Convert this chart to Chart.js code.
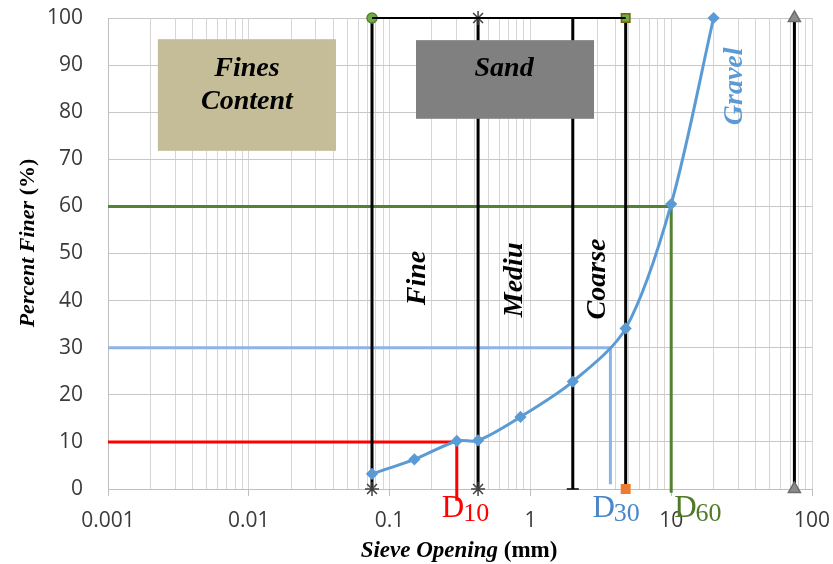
<!DOCTYPE html>
<html>
<head>
<meta charset="utf-8">
<script src="https://cdn.jsdelivr.net/npm/chart.js@4.4.1/dist/chart.umd.min.js"></script>
<style>
  html, body { margin: 0; padding: 0; background: #fff; }
  #wrap { width: 833px; height: 564px; }
</style>
</head>
<body>
<div id="wrap"><canvas id="gsd" width="833" height="564"></canvas></div>
<script>
// Data.
const sieveSizes = [0.075, 0.15, 0.3, 0.425, 0.85, 2, 4.75, 10, 20];
const percentFiner = [3.2, 6.3, 10.2, 10.3, 15.3, 22.8, 34.1, 60.5, 100];

// D10, D30, D60
const dSizes = [0.3, 3.7, 10];
const dPercents = [10, 30, 60];
const dNames = ['10', '30', '60'];
const dColors = ['#ff0000', '#4a86c8', '#4f7a28'];

// sieve limits (fines / fine / medium / coarse sand / gravel)
const limitSizes = [0.075, 0.425, 2, 4.75, 75];

const xTickLabels = ['0.001', '0.01', '0.1', '1', '10', '100'];
const yTickValues = [0, 10, 20, 30, 40, 50, 60, 70, 80, 90, 100];
const minorMultiples = [1, 2, 3, 4, 5, 6, 7, 8, 9];

// Build the log grid ticks from the labels.
const xTickValues = [];
xTickLabels.forEach((lbl, i) => {
  const base = Number(lbl);
  if (i === xTickLabels.length - 1) {
    xTickValues.push(base);
  } else {
    minorMultiples.forEach(m => xTickValues.push(+(base * m).toPrecision(6)));
  }
});

const isDecade = (v) => Math.abs(Math.log10(v) - Math.round(Math.log10(v))) < 1e-9;

const tickFont = { family: 'Open Sans', size: 21 };
const serif = 'Liberation Serif';

const vLine = (size, styles, fills, borders, radii) => ({
  data: [{ x: size, y: 0 }, { x: size, y: 100 }],
  showLine: true,
  borderColor: '#000',
  borderWidth: 3,
  pointStyle: styles,
  pointBackgroundColor: fills,
  pointBorderColor: borders,
  pointBorderWidth: 1.5,
  pointRadius: radii,
  clip: false
});

const dLine = (i) => ({
  data: [{ x: 0.001, y: dPercents[i] }, { x: dSizes[i], y: dPercents[i] }, { x: dSizes[i], y: [-2.5, 1, -0.8][i] }],
  showLine: true,
  borderColor: ['#ff0000', '#8eb4e3', '#548235'][i],
  borderWidth: 3,
  pointRadius: 0,
  tension: 0,
  clip: false
});

const datasets = [
  {
    label: 'Gradation',
    data: sieveSizes.map((s, i) => ({ x: s, y: percentFiner[i] })),
    showLine: true,
    borderColor: '#5b9bd5',
    backgroundColor: '#5b9bd5',
    borderWidth: 3,
    pointStyle: 'rectRot',
    pointRadius: 4,
    tension: 0.3,
    clip: false
  },
  {
    data: [{ x: limitSizes[0], y: 100 }, { x: limitSizes[3], y: 100 }],
    showLine: true,
    borderColor: '#000',
    borderWidth: 2,
    pointRadius: 0,
    clip: false
  },
  vLine(limitSizes[0], ['star', 'circle'], ['#404040', '#70ad47'], ['#404040', '#548235'], [7, 5]),
  vLine(limitSizes[1], ['star', 'star'], ['#404040', '#404040'], ['#404040', '#404040'], [7, 7]),
  vLine(limitSizes[2], ['line', 'line'], ['#000', '#000'], ['#000', '#000'], [6, 6]),
  vLine(limitSizes[3], ['rect', 'rect'], ['#ed7d31', '#70ad47'], ['#ed7d31', '#7f6000'], [6, 6]),
  vLine(limitSizes[4], ['triangle', 'triangle'], ['#8c8c8c', '#8c8c8c'], ['#6e6e6e', '#6e6e6e'], [7, 7]),
  dLine(0),
  dLine(1),
  dLine(2)
];

// Boxes and labels, placed in data units.
const boxes = [
  { x0: 0.00226, x1: 0.0416, y0: 71.8, y1: 95.5, fill: '#c4bd97', lines: ['Fines', 'Content'], tx: 0.0097, ty: [87.6, 80.6] },
  { x0: 0.154, x1: 2.83, y0: 78.6, y1: 95.3, fill: '#808080', lines: ['Sand'], tx: 0.65, ty: [87.6] }
];
const zoneLabels = [
  { text: 'Fine', x: 0.159, y: 44.8, color: '#000' },
  { text: 'Mediu', x: 0.777, y: 44.4, color: '#000' },
  { text: 'Coarse', x: 3.02, y: 44.6, color: '#000' },
  { text: 'Gravel', x: 28.4, y: 85.5, color: '#5b9bd5' }
];

const drawMixed = (ctx, parts, cx, cy, rotate) => {
  ctx.save();
  ctx.translate(cx, cy);
  if (rotate) ctx.rotate(-Math.PI / 2);
  let total = 0;
  parts.forEach(p => { ctx.font = p.font; p.w = ctx.measureText(p.text).width; total += p.w; });
  let x = -total / 2;
  ctx.textBaseline = 'alphabetic';
  ctx.textAlign = 'left';
  ctx.fillStyle = '#000';
  parts.forEach(p => { ctx.font = p.font; ctx.fillText(p.text, x, 0); x += p.w; });
  ctx.restore();
};

const decorations = {
  id: 'decorations',
  afterDatasetsDraw(chart) {
    const ctx = chart.ctx;
    const xs = chart.scales.x, ys = chart.scales.y;
    ctx.save();
    boxes.forEach(b => {
      const l = xs.getPixelForValue(b.x0), r = xs.getPixelForValue(b.x1);
      const t = ys.getPixelForValue(b.y1), btm = ys.getPixelForValue(b.y0);
      ctx.fillStyle = b.fill;
      ctx.fillRect(l, t, r - l, btm - t);
      ctx.fillStyle = '#000';
      ctx.font = `italic bold 28px "${serif}"`;
      ctx.textAlign = 'center';
      ctx.textBaseline = 'alphabetic';
      b.lines.forEach((ln, i) => ctx.fillText(ln, xs.getPixelForValue(b.tx), ys.getPixelForValue(b.ty[i])));
    });
    zoneLabels.forEach(z => {
      ctx.save();
      ctx.translate(xs.getPixelForValue(z.x), ys.getPixelForValue(z.y));
      ctx.rotate(-Math.PI / 2);
      ctx.font = `italic bold 28px "${serif}"`;
      ctx.fillStyle = z.color;
      ctx.textAlign = 'center';
      ctx.textBaseline = 'middle';
      ctx.fillText(z.text, 0, 0);
      ctx.restore();
    });
    // D labels
    const offs = [-15, -18, 3];
    dSizes.forEach((s, i) => {
      const x = xs.getPixelForValue(s) + offs[i];
      ctx.fillStyle = dColors[i];
      ctx.textAlign = 'left';
      ctx.textBaseline = 'alphabetic';
      ctx.font = `31px "${serif}"`;
      ctx.fillText('D', x, 517);
      const w = ctx.measureText('D').width;
      ctx.font = `26px "${serif}"`;
      ctx.fillText(dNames[i], x + w - 1, 521);
    });
    // axis titles
    drawMixed(ctx, [
      { text: 'Sieve Opening ', font: `italic bold 23px "${serif}"` },
      { text: '(mm)', font: `bold 23px "${serif}"` }
    ], 459, 557, false);
    drawMixed(ctx, [
      { text: 'Percent Finer ', font: `italic bold 22px "${serif}"` },
      { text: '(%)', font: `bold 22px "${serif}"` }
    ], 34, 243, true);
    ctx.restore();
  }
};

const config = {
  type: 'scatter',
  data: { datasets },
  options: {
    responsive: false,
    animation: false,
    layout: { padding: { left: 0, right: 21, top: 18, bottom: 0 } },
    plugins: { legend: { display: false }, tooltip: { enabled: false } },
    scales: {
      x: {
        type: 'logarithmic',
        min: 0.001,
        max: 100,
        afterBuildTicks: (s) => { s.ticks = xTickValues.map(v => ({ value: v })); },
        afterFit: (s) => { s.height = 75; s.paddingLeft = 0; s.paddingRight = 0; },
        ticks: {
          autoSkip: false,
          maxRotation: 0,
          minRotation: 0,
          padding: 12,
          font: tickFont,
          color: '#3a3a3a',
          callback: (v) => isDecade(v) ? xTickLabels[Math.round(Math.log10(v)) + 3] : ''
        },
        grid: {
          color: '#d6d6d6',
          tickLength: 7,
          tickColor: (c) => (c.tick && isDecade(c.tick.value)) ? '#bfbfbf' : 'rgba(0,0,0,0)'
        },
        border: { color: '#bfbfbf' }
      },
      y: {
        min: 0,
        max: 100,
        afterBuildTicks: (s) => { s.ticks = yTickValues.map(v => ({ value: v })); },
        afterFit: (s) => { s.width = 108; s.paddingTop = 0; s.paddingBottom = 0; },
        ticks: { padding: 25, font: tickFont, color: '#3a3a3a' },
        grid: { color: '#c8c8c8', drawTicks: false },
        border: { color: '#bfbfbf' }
      }
    }
  },
  plugins: [decorations]
};

const gsdChart = new Chart(document.getElementById('gsd'), config);
</script>
</body>
</html>
